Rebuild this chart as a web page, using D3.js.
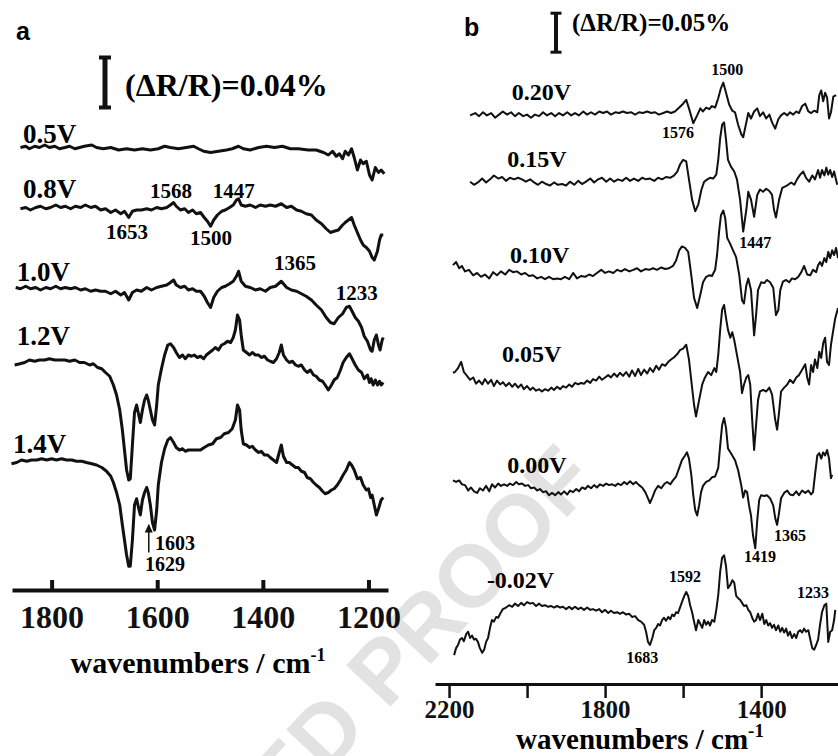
<!DOCTYPE html>
<html>
<head>
<meta charset="utf-8">
<script src="https://cdn.jsdelivr.net/npm/d3@7"></script>
<style>
  body { margin: 0; background: #fff; }
  svg { display: block; }
  .serif { font-family: "Liberation Serif", "Times New Roman", serif; font-weight: bold; }
  .sans { font-family: "Liberation Sans", Arial, sans-serif; font-weight: bold; }
</style>
</head>
<body>
<svg id="chart"></svg>
<script>
// values are ΔR/R in units of 0.001 %, x in wavenumbers (cm-1)
const voltsA = ['0.5V', '0.8V', '1.0V', '1.2V', '1.4V'];
const offsetsA = [354, 306, 241, 182, 102];
const ticksA = [1800, 1600, 1400, 1200];

const spec05 = [[1859,0],[1849,1],[1842,-1],[1832,1],[1823,0],[1813,2],[1804,0],[1794,1],[1785,-1],[1775,0],[1766,1],[1756,-1],[1747,0],[1738,1],[1724,2],[1715,0],[1702,-1],[1688,0],[1673,-2],[1658,-1],[1643,-2],[1628,-1],[1613,-2],[1598,-1],[1586,1],[1575,0],[1560,-1],[1545,0],[1531,1],[1522,-1],[1512,-3],[1499,-4],[1484,-3],[1469,-2],[1458,-1],[1446,1],[1437,-1],[1424,-2],[1408,0],[1393,1],[1378,0],[1363,1],[1348,-1],[1333,-1],[1314,-2],[1299,-2],[1285,-4],[1276,-6],[1268,-3],[1261,-7],[1255,-5],[1249,-9],[1244,-3],[1238,-6],[1232,-1],[1227,-8],[1221,-18],[1215,-10],[1210,-13],[1204,-11],[1198,-22],[1193,-26],[1187,-16],[1181,-20],[1176,-18],[1170,-21]];

const spec08 = [[1859,-1],[1849,0],[1840,-2],[1830,0],[1821,1],[1811,-1],[1802,0],[1792,2],[1783,0],[1774,1],[1764,-1],[1755,1],[1745,0],[1736,2],[1726,0],[1717,1],[1707,-2],[1698,-1],[1688,-4],[1679,-2],[1669,-5],[1662,-3],[1654,-8],[1647,-3],[1639,-2],[1630,-2],[1620,-1],[1611,-2],[1601,0],[1592,-1],[1582,0],[1575,2],[1569,4],[1564,1],[1556,-2],[1548,-1],[1541,-4],[1533,-2],[1526,-5],[1518,-4],[1511,-8],[1505,-11],[1499,-15],[1493,-10],[1486,-6],[1478,-3],[1471,-2],[1463,0],[1456,2],[1450,6],[1446,7],[1441,2],[1433,1],[1424,2],[1414,0],[1405,2],[1395,1],[1386,2],[1376,1],[1365,3],[1355,0],[1346,1],[1336,-2],[1327,-3],[1318,-5],[1308,-6],[1299,-10],[1289,-13],[1280,-17],[1272,-20],[1265,-19],[1257,-18],[1249,-14],[1244,-12],[1238,-10],[1232,-8],[1227,-14],[1221,-20],[1215,-26],[1210,-30],[1204,-32],[1198,-35],[1193,-40],[1189,-42],[1183,-35],[1179,-26],[1176,-22],[1172,-22]];

const spec10 = [[1868,1],[1859,0],[1849,2],[1840,0],[1830,1],[1821,-1],[1811,1],[1802,0],[1792,2],[1783,0],[1774,1],[1764,0],[1755,1],[1745,-1],[1736,0],[1726,-2],[1717,-1],[1707,-2],[1698,-2],[1688,-4],[1679,-2],[1669,-5],[1662,-3],[1654,-9],[1647,-3],[1639,-1],[1630,-2],[1620,1],[1611,-1],[1601,1],[1592,2],[1582,3],[1575,5],[1569,7],[1564,3],[1556,1],[1548,2],[1541,-1],[1533,0],[1526,-2],[1518,-2],[1511,-6],[1505,-11],[1499,-15],[1493,-7],[1486,-2],[1478,1],[1471,2],[1463,4],[1456,6],[1450,10],[1446,14],[1441,6],[1433,2],[1424,1],[1414,-1],[1405,0],[1395,-2],[1386,1],[1376,2],[1365,6],[1355,1],[1346,-1],[1336,-2],[1327,-4],[1318,-6],[1308,-9],[1299,-13],[1289,-17],[1280,-23],[1272,-27],[1265,-28],[1257,-23],[1249,-20],[1242,-15],[1236,-14],[1231,-18],[1225,-23],[1219,-26],[1213,-31],[1208,-38],[1202,-42],[1196,-49],[1193,-50],[1189,-41],[1185,-37],[1181,-45],[1178,-49],[1174,-41],[1172,-39]];

const spec12 = [[1870,-2],[1860,-1],[1851,0],[1842,2],[1832,1],[1823,2],[1813,2],[1804,3],[1794,2],[1785,2],[1775,2],[1766,1],[1756,2],[1747,0],[1738,0],[1728,-2],[1721,-1],[1713,-4],[1705,-5],[1698,-8],[1690,-11],[1683,-18],[1677,-26],[1671,-38],[1666,-54],[1662,-70],[1658,-86],[1654,-94],[1651,-93],[1647,-66],[1643,-40],[1639,-34],[1635,-42],[1632,-48],[1628,-38],[1624,-30],[1620,-26],[1617,-30],[1613,-38],[1609,-46],[1605,-50],[1601,-34],[1598,-18],[1592,-5],[1586,6],[1580,14],[1575,15],[1569,12],[1564,8],[1558,4],[1552,6],[1547,3],[1541,6],[1535,5],[1530,6],[1524,4],[1518,5],[1512,3],[1507,6],[1501,8],[1495,10],[1490,12],[1484,10],[1478,14],[1473,15],[1467,17],[1461,16],[1456,20],[1452,26],[1448,38],[1444,34],[1441,22],[1437,10],[1431,8],[1425,6],[1420,8],[1414,6],[1408,6],[1403,4],[1397,5],[1391,2],[1386,1],[1380,0],[1374,3],[1369,8],[1365,14],[1361,6],[1355,2],[1350,0],[1344,1],[1338,-2],[1333,-3],[1327,-2],[1321,-6],[1316,-8],[1310,-6],[1304,-10],[1299,-11],[1293,-14],[1287,-15],[1282,-18],[1276,-22],[1270,-18],[1265,-14],[1259,-12],[1253,-6],[1248,0],[1242,4],[1236,7],[1231,3],[1225,-2],[1219,-6],[1213,-8],[1208,-13],[1202,-10],[1198,-16],[1195,-13],[1191,-18],[1187,-14],[1183,-18],[1179,-15],[1176,-18],[1172,-16]];

const spec14 = [[1876,-1],[1866,0],[1857,2],[1847,1],[1838,2],[1828,2],[1819,3],[1809,2],[1800,3],[1791,2],[1781,3],[1772,2],[1762,2],[1753,1],[1743,1],[1734,0],[1724,-1],[1715,-2],[1705,-4],[1696,-7],[1688,-11],[1683,-16],[1677,-24],[1671,-34],[1666,-50],[1662,-62],[1658,-74],[1654,-83],[1651,-83],[1647,-62],[1643,-34],[1639,-29],[1635,-37],[1632,-42],[1628,-30],[1624,-24],[1620,-20],[1617,-24],[1613,-34],[1609,-48],[1605,-54],[1601,-38],[1598,-18],[1592,0],[1586,11],[1580,18],[1575,20],[1569,16],[1564,12],[1558,10],[1552,11],[1547,9],[1541,10],[1533,10],[1526,10],[1518,10],[1511,12],[1503,14],[1495,15],[1488,19],[1480,20],[1473,23],[1465,24],[1458,27],[1452,34],[1448,46],[1444,42],[1441,26],[1437,15],[1431,14],[1425,12],[1420,13],[1414,10],[1408,8],[1403,9],[1397,6],[1391,6],[1386,4],[1380,2],[1374,0],[1369,8],[1365,14],[1361,5],[1355,0],[1350,0],[1344,-2],[1338,-4],[1333,-4],[1327,-7],[1321,-8],[1316,-12],[1310,-13],[1304,-16],[1299,-18],[1293,-20],[1287,-23],[1282,-25],[1276,-24],[1270,-22],[1265,-21],[1259,-18],[1253,-14],[1248,-10],[1242,-6],[1236,0],[1232,-2],[1227,-6],[1221,-13],[1215,-12],[1210,-18],[1204,-22],[1200,-21],[1196,-28],[1193,-26],[1189,-34],[1185,-42],[1181,-37],[1176,-30],[1172,-28]];

const peaksA = [['1568',1574,314],['1447',1455,314],['1653',1657,281],['1500',1498,276],['1365',1339,256],['1233',1222,232]];

const voltsB = ['0.20V', '0.15V', '0.10V', '0.05V', '0.00V', '-0.02V'];
const offsetsB = [729, 644, 528, 390, 251, 95];
const ticksB = [2200, 2000, 1800, 1600, 1400];

const spec020 = [[2146,0],[2133,3],[2123,-1],[2113,4],[2103,0],[2092,3],[2082,-3],[2072,1],[2062,5],[2051,1],[2041,4],[2031,-1],[2021,3],[2010,-1],[2000,1],[1990,-3],[1980,1],[1969,-1],[1959,4],[1949,0],[1938,3],[1928,-1],[1918,3],[1908,0],[1897,4],[1887,0],[1877,3],[1867,0],[1856,5],[1846,1],[1836,4],[1826,1],[1815,5],[1805,3],[1795,5],[1785,1],[1774,4],[1764,3],[1754,5],[1744,3],[1733,4],[1723,1],[1713,4],[1703,3],[1692,5],[1682,3],[1672,4],[1662,1],[1651,3],[1641,5],[1631,3],[1621,5],[1610,10],[1600,15],[1592,20],[1585,9],[1574,-10],[1564,0],[1556,9],[1549,5],[1541,10],[1533,8],[1526,12],[1518,10],[1510,22],[1503,35],[1497,42],[1490,29],[1482,14],[1474,6],[1467,4],[1459,-12],[1451,-24],[1446,-28],[1438,-9],[1433,3],[1426,-4],[1418,5],[1410,9],[1403,-1],[1395,4],[1387,-4],[1379,1],[1372,-9],[1364,-17],[1356,-5],[1349,0],[1341,3],[1333,0],[1326,4],[1318,1],[1310,5],[1303,3],[1295,12],[1287,15],[1279,5],[1272,3],[1264,6],[1256,4],[1251,26],[1246,32],[1241,18],[1236,29],[1231,23],[1226,-4],[1221,4],[1215,24],[1208,26]];

const spec015 = [[2146,0],[2136,-4],[2126,-1],[2115,4],[2105,-1],[2095,3],[2085,8],[2074,4],[2064,6],[2054,1],[2044,5],[2033,3],[2023,5],[2013,3],[2003,0],[1992,3],[1982,-1],[1972,-4],[1962,0],[1951,-3],[1941,-5],[1931,-1],[1921,-4],[1910,-3],[1900,-5],[1890,0],[1879,-4],[1869,1],[1859,-3],[1849,0],[1838,4],[1828,-1],[1818,3],[1808,5],[1797,0],[1787,4],[1777,0],[1767,3],[1756,1],[1746,5],[1736,1],[1726,4],[1715,1],[1705,5],[1695,3],[1685,4],[1674,1],[1664,5],[1654,3],[1644,6],[1633,5],[1623,8],[1615,13],[1608,22],[1600,28],[1592,26],[1585,3],[1577,-23],[1569,-38],[1561,-29],[1553,-10],[1546,0],[1538,3],[1531,5],[1523,4],[1515,9],[1510,28],[1505,56],[1500,73],[1495,76],[1490,54],[1485,28],[1477,19],[1469,13],[1462,3],[1454,-23],[1446,-64],[1438,-36],[1433,-13],[1426,-23],[1418,-45],[1410,-17],[1403,-10],[1395,-13],[1387,-9],[1379,-12],[1372,-17],[1367,-36],[1362,-46],[1354,-23],[1346,-8],[1338,-6],[1331,-4],[1323,-1],[1315,-4],[1308,3],[1300,9],[1292,13],[1285,5],[1277,0],[1269,8],[1262,3],[1254,15],[1249,5],[1244,15],[1238,8],[1233,18],[1228,9],[1223,15],[1218,6],[1213,13],[1205,-4]];

const spec010 = [[2190,9],[2182,13],[2174,5],[2167,8],[2159,1],[2149,3],[2138,-4],[2128,-1],[2118,-6],[2108,-3],[2097,-8],[2087,0],[2077,-4],[2067,1],[2056,-3],[2046,3],[2036,0],[2026,1],[2015,-3],[2005,-1],[1995,-5],[1985,-4],[1974,-8],[1964,-6],[1954,-9],[1944,-6],[1933,-9],[1923,-8],[1913,-9],[1903,-6],[1892,-9],[1882,-1],[1872,-8],[1862,-5],[1851,-6],[1841,-3],[1831,-5],[1821,-1],[1810,3],[1800,-1],[1790,1],[1779,-1],[1769,3],[1759,1],[1749,4],[1738,1],[1728,3],[1718,5],[1708,1],[1697,4],[1687,3],[1677,5],[1667,3],[1656,6],[1646,4],[1636,5],[1626,8],[1618,15],[1610,28],[1603,33],[1595,31],[1587,26],[1579,-4],[1572,-33],[1564,-46],[1556,-29],[1549,-13],[1541,-6],[1533,-4],[1526,-5],[1518,3],[1513,22],[1508,51],[1503,73],[1497,79],[1492,69],[1487,44],[1479,36],[1472,28],[1464,19],[1456,-4],[1449,-36],[1444,-40],[1438,-17],[1433,-8],[1426,-23],[1418,-81],[1413,-55],[1408,-23],[1400,-13],[1392,-14],[1385,-10],[1377,-13],[1369,-20],[1362,-55],[1356,-49],[1351,-23],[1344,-12],[1336,-10],[1328,-13],[1321,-8],[1313,-9],[1305,-6],[1297,0],[1290,8],[1282,-3],[1274,-4],[1267,3],[1259,0],[1254,9],[1249,13],[1244,8],[1238,18],[1233,13],[1228,26],[1223,18],[1218,28],[1213,22],[1208,31],[1203,18]];

const spec005 = [[2190,9],[2185,10],[2177,15],[2169,23],[2162,10],[2154,5],[2146,0],[2138,3],[2131,-5],[2123,-1],[2115,-6],[2108,1],[2100,-5],[2092,0],[2085,-8],[2077,-1],[2069,-6],[2062,-3],[2054,-8],[2046,-4],[2038,-9],[2031,-5],[2023,-10],[2015,-6],[2008,-12],[2000,-8],[1992,-13],[1985,-10],[1977,-14],[1969,-12],[1962,-15],[1954,-12],[1946,-14],[1938,-10],[1931,-13],[1923,-9],[1915,-12],[1908,-8],[1900,-10],[1892,-6],[1885,-9],[1877,-4],[1869,-6],[1862,-4],[1854,-5],[1846,-1],[1838,-4],[1831,1],[1823,-1],[1815,4],[1808,0],[1800,3],[1792,6],[1785,3],[1777,8],[1769,4],[1762,9],[1754,5],[1746,10],[1738,4],[1731,12],[1723,5],[1715,14],[1708,6],[1700,13],[1692,8],[1685,15],[1677,10],[1669,18],[1662,13],[1654,20],[1646,18],[1638,23],[1631,26],[1623,29],[1615,33],[1608,38],[1600,40],[1592,45],[1585,26],[1577,-10],[1572,-32],[1567,-47],[1559,-26],[1551,-6],[1544,3],[1536,10],[1528,6],[1520,15],[1515,10],[1510,32],[1505,64],[1500,90],[1495,96],[1490,79],[1485,64],[1479,54],[1474,61],[1469,51],[1462,32],[1454,10],[1449,-17],[1444,-6],[1438,3],[1433,6],[1428,-6],[1423,-51],[1418,-90],[1413,-58],[1408,-26],[1403,-15],[1395,-13],[1387,-15],[1379,-10],[1372,-19],[1364,-51],[1359,-64],[1354,-41],[1349,-15],[1341,-10],[1333,-6],[1326,0],[1318,-4],[1310,3],[1303,6],[1295,13],[1287,20],[1282,3],[1277,-6],[1272,19],[1267,10],[1262,26],[1256,15],[1251,36],[1246,28],[1241,47],[1236,54],[1231,23],[1226,19],[1221,45],[1215,64],[1210,79],[1203,92]];

const spec000 = [[2190,10],[2182,8],[2174,10],[2167,5],[2159,4],[2151,-3],[2144,1],[2136,-4],[2128,-6],[2121,0],[2113,-3],[2105,3],[2097,-4],[2090,5],[2082,1],[2074,6],[2067,3],[2059,5],[2051,3],[2044,6],[2036,4],[2028,8],[2021,5],[2013,6],[2005,3],[1997,4],[1990,0],[1982,1],[1974,-3],[1967,-1],[1959,-5],[1951,-4],[1944,-9],[1936,-6],[1928,-9],[1920,-5],[1913,-8],[1905,-4],[1897,-8],[1890,-3],[1882,-5],[1874,-1],[1867,-4],[1859,1],[1851,-1],[1844,3],[1836,0],[1828,4],[1821,1],[1813,5],[1805,3],[1797,6],[1790,4],[1782,5],[1774,3],[1767,6],[1759,4],[1751,8],[1744,5],[1736,9],[1728,5],[1721,8],[1713,4],[1705,1],[1697,-5],[1690,-13],[1685,-19],[1679,-12],[1672,-3],[1664,3],[1656,0],[1649,5],[1641,8],[1633,5],[1626,10],[1618,15],[1610,26],[1603,36],[1595,42],[1590,46],[1585,38],[1579,17],[1574,-9],[1569,-28],[1564,-35],[1559,-22],[1554,-5],[1549,3],[1541,8],[1533,10],[1526,14],[1518,15],[1510,26],[1505,55],[1500,81],[1495,90],[1490,77],[1485,51],[1479,46],[1474,42],[1467,36],[1459,23],[1451,4],[1446,-12],[1441,-3],[1436,-5],[1431,-22],[1426,-35],[1421,-60],[1415,-77],[1410,-41],[1405,-15],[1400,-9],[1392,-10],[1385,-9],[1377,-13],[1369,-22],[1364,-38],[1359,-47],[1354,-31],[1349,-13],[1341,-6],[1333,-3],[1326,-8],[1318,-9],[1310,-4],[1303,-9],[1295,-3],[1287,-6],[1279,-3],[1272,-8],[1267,-5],[1262,17],[1256,42],[1251,45],[1246,38],[1241,46],[1236,42],[1231,49],[1226,38],[1221,13],[1218,17]];

const specm002 = [[2187,-58],[2182,-49],[2177,-45],[2172,-38],[2167,-36],[2162,-40],[2156,-31],[2151,-28],[2146,-36],[2141,-33],[2136,-38],[2131,-37],[2126,-41],[2121,-49],[2115,-55],[2110,-51],[2105,-41],[2100,-36],[2095,-23],[2090,-13],[2085,-15],[2079,-9],[2074,-10],[2069,-5],[2062,1],[2054,3],[2046,6],[2038,4],[2031,8],[2023,5],[2015,9],[2008,6],[2000,10],[1992,8],[1985,9],[1977,5],[1969,8],[1962,5],[1954,6],[1946,4],[1938,5],[1931,3],[1923,5],[1915,3],[1908,4],[1900,1],[1892,4],[1885,1],[1877,4],[1869,1],[1862,3],[1854,0],[1846,3],[1838,0],[1831,1],[1823,-1],[1815,1],[1808,-3],[1800,0],[1792,-4],[1785,-1],[1777,-4],[1769,-3],[1762,-5],[1754,-3],[1746,-6],[1738,-5],[1731,-9],[1723,-8],[1715,-13],[1708,-15],[1700,-19],[1695,-28],[1690,-41],[1685,-45],[1679,-36],[1674,-26],[1669,-23],[1664,-18],[1659,-20],[1654,-13],[1649,-10],[1644,-14],[1638,-9],[1633,-12],[1628,-6],[1623,-8],[1618,-3],[1613,-4],[1608,3],[1603,10],[1597,18],[1592,23],[1587,18],[1582,6],[1577,-3],[1572,-15],[1567,-26],[1561,-13],[1556,-18],[1551,-23],[1546,-13],[1541,-19],[1536,-15],[1531,-20],[1526,-13],[1520,-15],[1515,0],[1510,19],[1505,49],[1500,67],[1495,70],[1490,56],[1485,28],[1479,32],[1474,38],[1469,35],[1464,18],[1459,15],[1454,13],[1449,9],[1444,5],[1438,6],[1433,0],[1428,-3],[1423,-10],[1418,-15],[1413,-13],[1408,-5],[1403,-13],[1397,-5],[1392,-18],[1387,-13],[1382,-20],[1377,-17],[1372,-23],[1367,-19],[1362,-26],[1356,-20],[1351,-28],[1346,-23],[1341,-29],[1336,-24],[1331,-33],[1326,-28],[1321,-36],[1315,-31],[1310,-36],[1305,-28],[1300,-26],[1295,-29],[1290,-24],[1285,-28],[1279,-26],[1274,-38],[1269,-49],[1264,-51],[1259,-45],[1254,-38],[1249,-19],[1244,-3],[1238,6],[1233,8],[1228,-41],[1223,-28],[1218,-26],[1213,-13],[1210,0]];

const peaksB = [['1500',1487,781],['1576',1613,700],['1447',1415,559],['1419',1403,156],['1365',1326,183],['1592',1595,131],['1683',1705,27],['1233',1267,110]];

const spectraA = [spec05, spec08, spec10, spec12, spec14];
const spectraB = [spec020, spec015, spec010, spec005, spec000, specm002];

const width = 838, height = 756;
const svg = d3.select('#chart').attr('width', width).attr('height', height);

// watermark, behind everything
svg.append('text')
  .attr('class', 'sans')
  .attr('transform', 'translate(600,482) rotate(-47)')
  .attr('text-anchor', 'end')
  .attr('font-size', 88)
  .attr('fill', '#e2e2e2')
  .text('UNCORRECTED PROOF');

// ---------- panel a ----------
const xA = d3.scaleLinear().domain([1875, 1163]).range([12, 388]);
const yA = d3.scaleLinear().domain([0, 400]).range([590, 90]);

const gA = svg.append('g');

gA.append('text').attr('class', 'sans').attr('x', 16).attr('y', 40)
  .attr('font-size', 25).text('a');

// scale bar 0.04 % = 40 units
const barA = { x: 105, top: 426 };
gA.append('line').attr('x1', barA.x).attr('x2', barA.x)
  .attr('y1', yA(barA.top)).attr('y2', yA(barA.top - 40))
  .attr('stroke', '#111').attr('stroke-width', 5);
[barA.top, barA.top - 40].forEach(v => gA.append('line')
  .attr('x1', barA.x - 6).attr('x2', barA.x + 6)
  .attr('y1', yA(v)).attr('y2', yA(v))
  .attr('stroke', '#111').attr('stroke-width', 4));
gA.append('text').attr('class', 'serif').attr('x', 125).attr('y', 96)
  .attr('font-size', 32).text('(ΔR/R)=0.04%');

const lineA = off => d3.line()
  .x(d => xA(d[0]))
  .y(d => yA(off + d[1]));

spectraA.forEach((s, i) => {
  gA.append('path')
    .datum(s)
    .attr('d', lineA(offsetsA[i]))
    .attr('fill', 'none')
    .attr('stroke', '#111')
    .attr('stroke-width', 3)
    .attr('stroke-linejoin', 'round');
});

// voltage labels (wn, level) placed just above the start of each trace
const labelAtA = [[1854, 358], [1854, 314], [1866, 247], [1866, 196], [1873, 110]];
voltsA.forEach((v, i) => {
  gA.append('text').attr('class', 'serif')
    .attr('x', xA(labelAtA[i][0])).attr('y', yA(labelAtA[i][1]))
    .attr('font-size', 27).text(v);
});

gA.selectAll('.peakA')
  .data(peaksA)
  .enter().append('text')
  .attr('class', 'serif peakA')
  .attr('x', d => xA(d[1]))
  .attr('y', d => yA(d[2]))
  .attr('text-anchor', 'middle')
  .attr('font-size', 21)
  .text(d => d[0]);

// 1603 / 1629 with arrow
gA.append('text').attr('class', 'serif').attr('x', xA(1604)).attr('y', yA(32))
  .attr('font-size', 20).text('1603');
gA.append('text').attr('class', 'serif').attr('x', xA(1623)).attr('y', yA(15))
  .attr('font-size', 20).text('1629');
gA.append('line').attr('x1', xA(1616)).attr('x2', xA(1616))
  .attr('y1', yA(30)).attr('y2', yA(48))
  .attr('stroke', '#111').attr('stroke-width', 1.5);
gA.append('path')
  .attr('d', `M${xA(1616) - 4},${yA(46)} L${xA(1616)},${yA(53)} L${xA(1616) + 4},${yA(46)} Z`)
  .attr('fill', '#111');

const axisA = gA.append('g')
  .attr('transform', `translate(0,${yA(0)})`)
  .call(d3.axisBottom(xA).tickValues(ticksA).tickFormat(d3.format('d'))
    .tickSizeInner(-10).tickSizeOuter(0).tickPadding(15));
axisA.select('.domain').attr('stroke', '#111').attr('stroke-width', 4);
axisA.selectAll('.tick line').attr('stroke', '#111').attr('stroke-width', 4);
axisA.selectAll('.tick text').attr('class', 'serif').attr('font-size', 32).attr('fill', '#111');

gA.append('text').attr('class', 'serif')
  .attr('x', 198).attr('y', 673).attr('text-anchor', 'middle').attr('font-size', 30)
  .call(t => {
    t.append('tspan').text('wavenumbers / cm');
    t.append('tspan').attr('font-size', 18).attr('dy', -12).text('-1');
  });

// ---------- panel b ----------
const xB = d3.scaleLinear().domain([2236, 1203]).range([435, 838]);
const yB = d3.scaleLinear().domain([0, 500]).range([684, 294]);

const gB = svg.append('g');

gB.append('text').attr('class', 'sans').attr('x', 464).attr('y', 36)
  .attr('font-size', 25).text('b');

const barB = { x: 556, top: 860 };
gB.append('line').attr('x1', barB.x).attr('x2', barB.x)
  .attr('y1', yB(barB.top)).attr('y2', yB(barB.top - 50))
  .attr('stroke', '#111').attr('stroke-width', 4);
[barB.top, barB.top - 50].forEach(v => gB.append('line')
  .attr('x1', barB.x - 5.5).attr('x2', barB.x + 5.5)
  .attr('y1', yB(v)).attr('y2', yB(v))
  .attr('stroke', '#111').attr('stroke-width', 3));
gB.append('text').attr('class', 'serif').attr('x', 572).attr('y', 31)
  .attr('font-size', 25).text('(ΔR/R)=0.05%');

const lineB = off => d3.line()
  .x(d => xB(d[0]))
  .y(d => yB(off + d[1]));

spectraB.forEach((s, i) => {
  gB.append('path')
    .datum(s)
    .attr('d', lineB(offsetsB[i]))
    .attr('fill', 'none')
    .attr('stroke', '#111')
    .attr('stroke-width', 2)
    .attr('stroke-linejoin', 'round');
});

const labelAtB = [[2039, 749], [2051, 663], [2044, 540], [2064, 413], [2051, 271], [2103, 123]];
voltsB.forEach((v, i) => {
  gB.append('text').attr('class', 'serif')
    .attr('x', xB(labelAtB[i][0])).attr('y', yB(labelAtB[i][1]))
    .attr('font-size', 24).text(v);
});

gB.selectAll('.peakB')
  .data(peaksB)
  .enter().append('text')
  .attr('class', 'serif peakB')
  .attr('x', d => xB(d[1]))
  .attr('y', d => yB(d[2]))
  .attr('text-anchor', 'middle')
  .attr('font-size', 16)
  .text(d => d[0]);

const axisB = gB.append('g')
  .attr('transform', `translate(0,${yB(0)})`)
  .call(d3.axisBottom(xB).tickValues(ticksB)
    .tickFormat(d => d % 400 === 200 ? d3.format('d')(d) : '')
    .tickSizeInner(14).tickSizeOuter(0).tickPadding(2));
axisB.select('.domain').attr('stroke', '#111').attr('stroke-width', 3);
axisB.selectAll('.tick line').attr('stroke', '#111').attr('stroke-width', 2.5);
axisB.selectAll('.tick text').attr('class', 'serif').attr('font-size', 25).attr('fill', '#111');

gB.append('text').attr('class', 'serif')
  .attr('x', 640).attr('y', 749).attr('text-anchor', 'middle').attr('font-size', 29)
  .call(t => {
    t.append('tspan').text('wavenumbers / cm');
    t.append('tspan').attr('font-size', 19).attr('dy', -12).text('-1');
  });
</script>
</body>
</html>
